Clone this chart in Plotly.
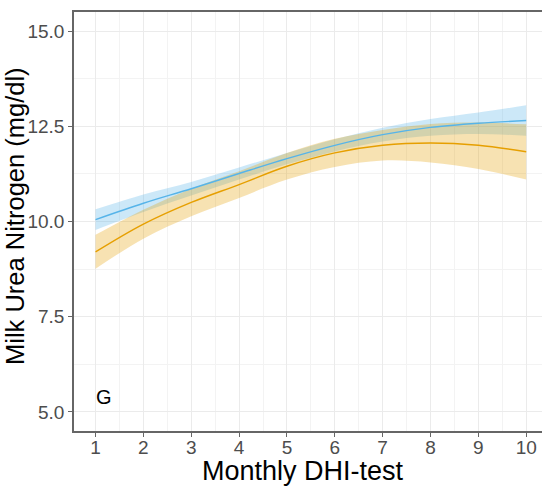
import plotly.graph_objects as go

months = [1, 2, 3, 4, 5, 6, 7, 8, 9, 10]

blue_fit = [10.05, 10.48, 10.86, 11.26, 11.65, 12.0, 12.28, 12.47, 12.58, 12.65]
blue_lo = [9.78, 10.25, 10.68, 11.1, 11.5, 11.84, 12.1, 12.25, 12.3, 12.25]
blue_hi = [10.32, 10.71, 11.04, 11.42, 11.8, 12.16, 12.46, 12.69, 12.86, 13.05]

orange_fit = [9.2, 9.93, 10.5, 10.97, 11.45, 11.8, 12.0, 12.06, 12.0, 11.83]
orange_lo = [8.76, 9.55, 10.14, 10.62, 11.1, 11.43, 11.6, 11.55, 11.38, 11.1]
orange_hi = [9.65, 10.31, 10.86, 11.32, 11.8, 12.17, 12.4, 12.56, 12.6, 12.55]

y_ticks = [5.0, 7.5, 10.0, 12.5, 15.0]
y_tick_text = ["5.0", "7.5", "10.0", "12.5", "15.0"]

BLUE = "#56B4E9"
ORANGE = "#E69F00"
FONT = "Liberation Sans, Arial"

fig = go.Figure()


def ribbon(x, lo, hi, color_rgba):
    fig.add_trace(go.Scatter(x=x, y=lo, mode="lines", line=dict(width=0, shape="spline"),
                             showlegend=False, hoverinfo="skip"))
    fig.add_trace(go.Scatter(x=x, y=hi, mode="lines", line=dict(width=0, shape="spline"),
                             fill="tonexty", fillcolor=color_rgba, showlegend=False, hoverinfo="skip"))


ribbon(months, blue_lo, blue_hi, "rgba(86,180,233,0.3)")
ribbon(months, orange_lo, orange_hi, "rgba(230,159,0,0.3)")

fig.add_trace(go.Scatter(x=months, y=blue_fit, mode="lines",
                         line=dict(color=BLUE, width=1.4, shape="spline"), showlegend=False))
fig.add_trace(go.Scatter(x=months, y=orange_fit, mode="lines",
                         line=dict(color=ORANGE, width=1.4, shape="spline"), showlegend=False))

fig.add_annotation(x=1.17, y=5.4, text="G", showarrow=False,
                   font=dict(size=20, color="black", family=FONT))

# axis titles
fig.add_annotation(xref="paper", yref="paper", x=0.49, y=-0.0955, yanchor="middle",
                   text="Monthly DHI-test", showarrow=False,
                   font=dict(size=27, color="black", family=FONT))
fig.add_annotation(xref="paper", yref="paper", x=-0.125, y=0.512, xanchor="center", yanchor="middle",
                   text="Milk Urea Nitrogen (mg/dl)", showarrow=False, textangle=-90,
                   font=dict(size=25.5, color="black", family=FONT))

grid = "#EBEBEB"
fig.update_layout(
    width=542, height=495,
    margin=dict(l=74, r=0, t=12, b=64, autoexpand=False),
    paper_bgcolor="white", plot_bgcolor="white",
    font=dict(family=FONT, color="#4D4D4D"),
    xaxis=dict(
        range=[0.55, 10.33], tickmode="array", tickvals=months,
        ticktext=[str(m) for m in months],
        tickfont=dict(size=19, color="#4D4D4D"),
        ticklabelstandoff=-6,
        showgrid=True, gridcolor=grid, gridwidth=1,
        minor=dict(tickvals=[m + 0.5 for m in range(0, 11)], showgrid=True, gridcolor="#F3F3F3", gridwidth=1),
        showline=True, linecolor="#666666", linewidth=1.5, mirror=True,
        ticks="outside", ticklen=4, tickcolor="#666666",
        zeroline=False, automargin=False,
    ),
    yaxis=dict(
        range=[4.5, 15.5], tickmode="array", tickvals=y_ticks, ticktext=y_tick_text,
        tickfont=dict(size=19, color="#4D4D4D"),
        showgrid=True, gridcolor=grid, gridwidth=1,
        minor=dict(tickvals=[6.25, 8.75, 11.25, 13.75], showgrid=True, gridcolor="#F3F3F3", gridwidth=1),
        showline=True, linecolor="#666666", linewidth=1.5,
        ticks="outside", ticklen=4, tickcolor="#666666",
        zeroline=False, automargin=False,
    ),
)

fig.write_html("out.html", config={"displayModeBar": False},
               post_script="document.body.style.margin='0';document.body.style.overflow='hidden';")
